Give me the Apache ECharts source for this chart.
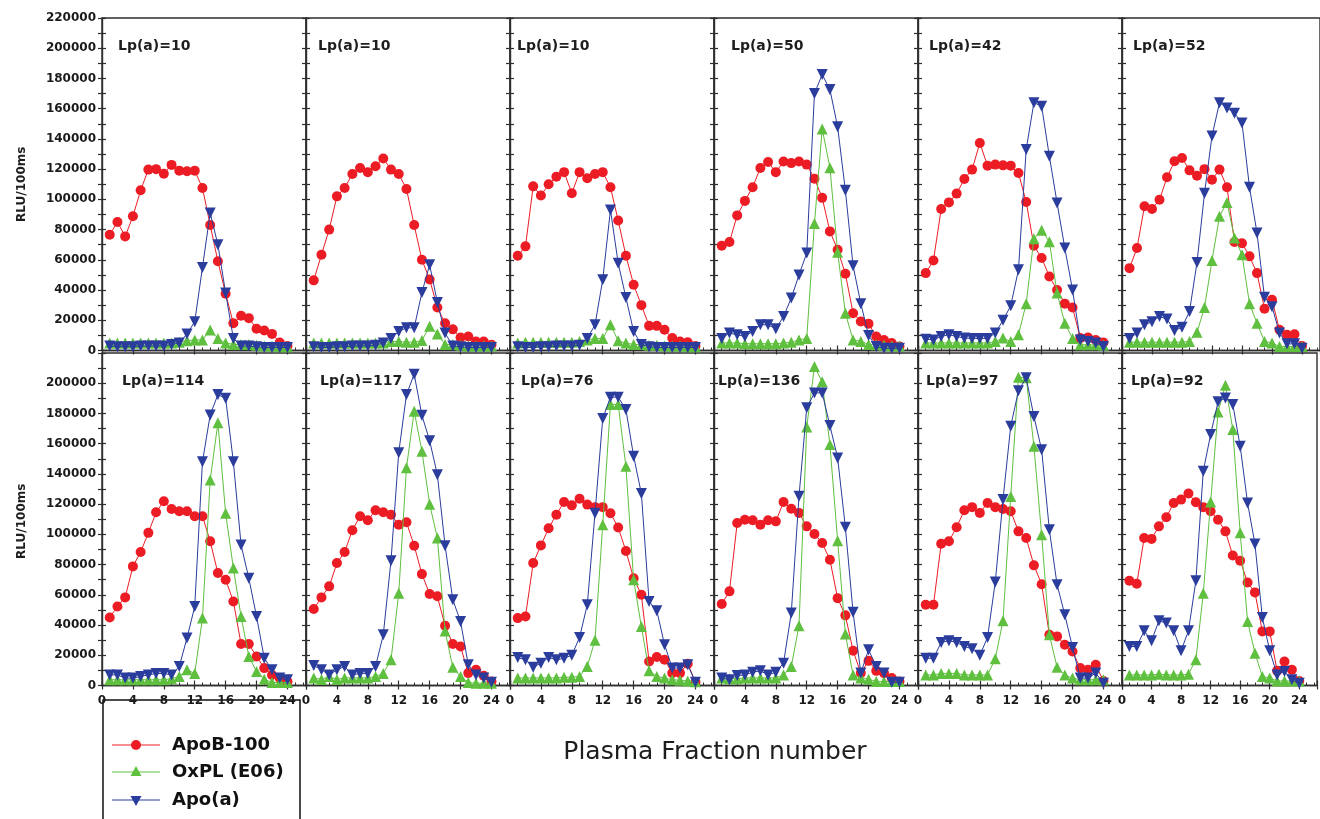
<!DOCTYPE html>
<html>
<head>
<meta charset="utf-8">
<script src="https://cdn.jsdelivr.net/npm/echarts@6/dist/echarts.min.js"></script>
<style>
  html, body { margin: 0; padding: 0; background: #ffffff; }
  #chart { width: 1320px; height: 819px; }
</style>
</head>
<body>
<div id="chart"></div>
<script>
// Fraction numbers along the x axis
const fractions = [1, 2, 3, 4, 5, 6, 7, 8, 9, 10, 11, 12, 13, 14, 15, 16, 17, 18, 19, 20, 21, 22, 23, 24];
const xTicks = [0, 4, 8, 12, 16, 20, 24];
const seriesNames = ['ApoB-100', 'OxPL (E06)', 'Apo(a)'];
const lpLabels = ['Lp(a)=10', 'Lp(a)=10', 'Lp(a)=10', 'Lp(a)=50', 'Lp(a)=42', 'Lp(a)=52',
                  'Lp(a)=114', 'Lp(a)=117', 'Lp(a)=76', 'Lp(a)=136', 'Lp(a)=97', 'Lp(a)=92'];

// RLU/100ms per fraction, one set of three profiles per subject
const p1ApoB = [76600, 85000, 75500, 88800, 106000, 119700, 120000, 117000, 122800, 119000, 118600, 119000, 107500, 83000, 59000, 37500, 18000, 23000, 21400, 14400, 13200, 11000, 5300, 3000];
const p1OxPL = [5000, 5000, 5000, 5000, 5000, 5000, 5000, 5000, 5000, 5500, 6500, 7000, 7000, 13500, 8000, 5000, 4000, 4000, 4000, 3500, 3000, 3000, 2500, 2500];
const p1Apoa = [3000, 2500, 2500, 2500, 3000, 3000, 3000, 3000, 4000, 5000, 11000, 19000, 55000, 91000, 70000, 38000, 8000, 3000, 3000, 2500, 2000, 2000, 2000, 2000];

const p2ApoB = [46400, 63400, 80000, 102000, 107500, 116800, 120800, 118000, 121900, 127000, 119700, 116800, 106900, 83000, 60000, 47000, 28500, 18000, 14000, 8600, 9300, 6000, 6000, 3800];
const p2OxPL = [5000, 5000, 5000, 5000, 5000, 5000, 5000, 5000, 5000, 5000, 6000, 6000, 5500, 5500, 6600, 16000, 11000, 4000, 4000, 3500, 3000, 3000, 3000, 3000];
const p2Apoa = [2500, 2000, 2000, 2500, 2500, 3000, 3000, 3000, 3500, 5000, 8000, 12600, 15000, 15000, 38400, 56700, 31800, 11500, 3000, 2500, 2000, 2000, 2000, 2000];

const p3ApoB = [62700, 68900, 108600, 102500, 110000, 115000, 118000, 104000, 118000, 114000, 116800, 118000, 108000, 86000, 62700, 43500, 30000, 16300, 16300, 13700, 8200, 6000, 5500, 3000];
const p3OxPL = [5000, 5500, 5500, 5500, 5500, 5500, 5500, 5500, 6000, 7000, 8000, 8000, 17000, 6400, 4900, 4000, 4000, 3500, 3500, 3000, 3000, 3000, 2500, 2500];
const p3Apoa = [2500, 2000, 2000, 2500, 2500, 3000, 3000, 3000, 3500, 8000, 17000, 46800, 93000, 57800, 35000, 12600, 4000, 2500, 2000, 2000, 2000, 2000, 2000, 2000];

const p4ApoB = [69300, 71800, 89400, 99000, 108000, 120800, 124700, 118000, 125000, 124000, 125000, 123000, 113700, 101000, 78800, 66700, 50800, 24700, 19200, 17700, 9300, 7000, 4900, 2600];
const p4OxPL = [5000, 5000, 5000, 4500, 4500, 4500, 4500, 4500, 5000, 5500, 7000, 8000, 84000, 146600, 121000, 65000, 24700, 7000, 6000, 4000, 3800, 3500, 3000, 3000];
const p4Apoa = [8000, 11500, 10400, 9300, 12600, 17000, 17000, 14400, 22500, 34700, 50000, 64500, 170000, 182600, 172700, 148000, 106000, 56000, 31000, 10000, 2600, 1500, 1500, 1500];

const p5ApoB = [51200, 59600, 93600, 98000, 103800, 113500, 119700, 137300, 122300, 123000, 122500, 122300, 117500, 98300, 69300, 61200, 49000, 40000, 31000, 28500, 8200, 8600, 7000, 5300];
const p5OxPL = [5000, 5000, 5000, 5000, 5000, 5000, 5000, 5000, 5000, 6000, 8200, 6000, 10400, 31000, 74000, 79500, 72000, 38000, 18000, 8000, 3800, 3800, 3800, 3500];
const p5Apoa = [7500, 7000, 9300, 10400, 9300, 8200, 8000, 8000, 8000, 11500, 20000, 29600, 53400, 133000, 164000, 161600, 128500, 97600, 67800, 40000, 7000, 6000, 4900, 2600];

const p6ApoB = [54500, 67800, 95400, 93600, 99800, 114600, 125200, 127400, 119200, 115700, 120000, 113000, 119700, 108000, 71800, 71000, 62300, 51200, 27600, 33600, 13700, 10400, 10800, 3000];
const p6OxPL = [5500, 5500, 5500, 5500, 5500, 5500, 5500, 5500, 6000, 12000, 28500, 59600, 88800, 98000, 74400, 63400, 31000, 18000, 6000, 5000, 2600, 2600, 2600, 2600];
const p6Apoa = [8000, 11500, 17000, 19000, 22500, 20800, 13200, 15400, 25800, 58300, 104000, 142000, 164000, 160500, 157000, 150500, 108000, 77700, 35300, 29000, 11500, 4400, 4400, 1500];

const p7ApoB = [45000, 52300, 58300, 78800, 88300, 101000, 114600, 121900, 116800, 115300, 115300, 112000, 112000, 95400, 74400, 70000, 55600, 27400, 27400, 19200, 11500, 7000, 4900, 2600];
const p7OxPL = [3800, 3800, 3800, 3800, 3800, 3800, 3800, 3800, 4500, 6000, 10400, 8000, 44600, 136000, 173800, 114000, 77700, 45700, 19200, 9300, 4200, 2000, 2000, 2000];
const p7Apoa = [7000, 7000, 4900, 4900, 6000, 7000, 8000, 8000, 7000, 12600, 31400, 52300, 148000, 179000, 192500, 190000, 148000, 93000, 71000, 45700, 18000, 10400, 4900, 3800];

const p8ApoB = [50600, 58300, 65600, 81000, 88300, 102700, 112000, 109300, 116000, 114600, 113000, 106400, 108000, 92500, 73700, 60500, 59000, 39500, 27400, 25800, 8200, 10400, 6400, 2600];
const p8OxPL = [5000, 4000, 6000, 4000, 5000, 5000, 5000, 5000, 6000, 8000, 17000, 61000, 144000, 181500, 155000, 120000, 97600, 36000, 12000, 6000, 2000, 1500, 1500, 1500];
const p8Apoa = [13200, 10400, 7000, 10400, 12600, 7000, 8000, 8000, 12600, 33600, 82600, 154000, 192500, 206000, 178800, 162000, 139500, 92500, 56700, 42400, 13700, 7000, 4900, 2200];

const p9ApoB = [44600, 45700, 81000, 92700, 104000, 113000, 121400, 119200, 123600, 119700, 118000, 118000, 114000, 104600, 89000, 71000, 60000, 15900, 18800, 17000, 8200, 8200, 14400, 2200];
const p9OxPL = [5000, 5000, 5000, 5000, 5000, 5000, 5500, 5500, 6000, 12600, 30000, 106400, 186000, 186000, 145000, 70000, 39000, 9700, 6000, 4900, 3800, 3500, 3000, 2500];
const p9Apoa = [18500, 17000, 12000, 14800, 18500, 17000, 18000, 20000, 31800, 53400, 114000, 176600, 190800, 190800, 182600, 151700, 127000, 55600, 49500, 27000, 11500, 11500, 13700, 2200];

const p10ApoB = [53900, 62300, 107500, 109700, 109300, 106400, 109300, 108600, 121400, 117000, 114200, 105300, 100200, 94300, 83200, 57800, 46400, 23000, 8200, 16300, 9700, 8200, 4900, 2600];
const p10OxPL = [5000, 4500, 4500, 5000, 5000, 5000, 5000, 5000, 7000, 12600, 39500, 171000, 211000, 201000, 159400, 95800, 34000, 7000, 4900, 4200, 2600, 2600, 2600, 2600];
const p10Apoa = [4900, 3800, 6600, 7000, 8800, 9700, 7000, 8800, 14800, 47900, 125200, 183700, 193600, 193600, 172000, 150600, 104700, 48400, 8200, 23600, 12600, 8200, 2200, 2200];

const p11ApoB = [53400, 53400, 93800, 95400, 104700, 116000, 118000, 114200, 120800, 118000, 116800, 115300, 102000, 97600, 79500, 67000, 33600, 32500, 27000, 22500, 11500, 10400, 13700, 3000];
const p11OxPL = [7000, 7000, 8000, 8000, 8000, 7000, 7000, 7000, 7000, 17700, 42800, 125000, 204000, 203600, 158300, 99800, 33600, 12000, 7000, 4900, 3800, 3800, 3800, 3800];
const p11Apoa = [18000, 18000, 28500, 29600, 28500, 25800, 24300, 20000, 31800, 68400, 123000, 171600, 195000, 203600, 178000, 156000, 103000, 66700, 46800, 25200, 4900, 4900, 8200, 1500];

const p12ApoB = [69300, 67300, 97600, 97000, 105300, 111300, 120800, 123000, 127000, 121200, 118000, 115300, 109700, 102000, 86000, 82600, 68200, 61600, 35800, 35800, 9700, 15900, 10400, 3000];
const p12OxPL = [7000, 7000, 7000, 7000, 7500, 7000, 7000, 7000, 7500, 17000, 61000, 121400, 181000, 198700, 169400, 101000, 42400, 21400, 6000, 4900, 3000, 3000, 3000, 3000];
const p12Apoa = [25800, 25800, 36200, 29600, 42800, 41300, 36200, 23000, 36200, 69300, 141800, 166000, 187700, 190300, 186000, 158300, 120800, 93600, 45000, 23000, 7000, 9300, 3800, 1500];

const panelData = [
  [p1ApoB, p1OxPL, p1Apoa], [p2ApoB, p2OxPL, p2Apoa], [p3ApoB, p3OxPL, p3Apoa],
  [p4ApoB, p4OxPL, p4Apoa], [p5ApoB, p5OxPL, p5Apoa], [p6ApoB, p6OxPL, p6Apoa],
  [p7ApoB, p7OxPL, p7Apoa], [p8ApoB, p8OxPL, p8Apoa], [p9ApoB, p9OxPL, p9Apoa],
  [p10ApoB, p10OxPL, p10Apoa], [p11ApoB, p11OxPL, p11Apoa], [p12ApoB, p12OxPL, p12Apoa]
];

// ---- layout & styling ----
const FONT = '"DejaVu Sans", "Liberation Sans", sans-serif';
const AXIS_COLOR = '#2e2e2e';
const COLORS = ['#ec1c24', '#5fbf3f', '#2a3c9c'];
const SYMBOLS = ['circle', 'triangle', 'triangle'];
const SYMBOL_SIZES = [10, 11, 11];
const SYMBOL_ROTATE = [0, 0, 180];

const PANEL_LEFT = 102, PANEL_W = 204, PANEL_H = 332.5;
const ROW_TOPS = [18, 353];
const Y_MAX = 220000, X_MAX = 26.4;
// horizontal offset of each "Lp(a)=" caption inside its panel
const captionOffsets = [16, 12, 7, 17, 11, 11, 20, 14, 11, 4, 8, 9];

const grids = [], xAxes = [], yAxes = [], series = [], graphics = [];

panelData.forEach((sets, i) => {
  const row = Math.floor(i / 6), col = i % 6;
  const left = PANEL_LEFT + PANEL_W * col;
  const top = ROW_TOPS[row];
  grids.push({
    left: left, top: top, width: PANEL_W, height: PANEL_H,
    show: true, borderColor: AXIS_COLOR, borderWidth: 1.4, backgroundColor: 'transparent'
  });

  const xBase = {
    type: 'value', gridIndex: i, min: 0, max: X_MAX, interval: 4, position: 'bottom',
    splitLine: { show: false }
  };
  // main x axis: line, inner ticks, labels on the lower row only
  xAxes.push(Object.assign({}, xBase, {
    axisLine: { show: true, onZero: false, lineStyle: { color: AXIS_COLOR, width: 1.4 } },
    axisTick: { show: true, inside: true, length: 5, lineStyle: { color: AXIS_COLOR, width: 1.2 } },
    minorTick: { show: true, splitNumber: 4, length: 3, lineStyle: { color: AXIS_COLOR, width: 1 } },
    axisLabel: {
      show: row === 1, margin: 9, color: '#1a1a1a', fontFamily: FONT, fontWeight: 'bold', fontSize: 12,
      formatter: v => (xTicks.indexOf(v) >= 0 ? String(v) : '')
    }
  }));
  // companion x axis: outer half of the crossing ticks
  xAxes.push(Object.assign({}, xBase, {
    axisLine: { show: false },
    axisTick: { show: true, inside: false, length: 4, lineStyle: { color: AXIS_COLOR, width: 1.2 } },
    axisLabel: { show: false }
  }));

  const yBase = {
    type: 'value', gridIndex: i, min: 0, max: Y_MAX, interval: 10000, position: 'left',
    splitLine: { show: false }
  };
  yAxes.push(Object.assign({}, yBase, {
    axisLine: { show: true, onZero: false, lineStyle: { color: AXIS_COLOR, width: 1.4 } },
    axisTick: { show: true, inside: true, length: 4, lineStyle: { color: AXIS_COLOR, width: 1.2 } },
    axisLabel: {
      show: col === 0, margin: 6, color: '#1a1a1a', fontFamily: FONT, fontWeight: 'bold', fontSize: 12,
      formatter: v => (v % 20000 === 0 && !(row === 1 && v === Y_MAX)) ? String(v) : ''
    }
  }));
  yAxes.push(Object.assign({}, yBase, {
    axisLine: { show: false },
    axisTick: { show: true, inside: false, length: 4, lineStyle: { color: AXIS_COLOR, width: 1.2 } },
    axisLabel: { show: false }
  }));

  sets.forEach((values, s) => {
    series.push({
      name: seriesNames[s],
      type: 'line',
      xAxisIndex: 2 * i,
      yAxisIndex: 2 * i,
      data: fractions.map((f, j) => [f, values[j]]),
      symbol: SYMBOLS[s],
      symbolSize: SYMBOL_SIZES[s],
      symbolRotate: SYMBOL_ROTATE[s],
      showAllSymbol: true,
      lineStyle: { color: COLORS[s], width: 1 },
      itemStyle: { color: COLORS[s], borderWidth: 0 },
      z: 2 + s,
      silent: true,
      animation: false
    });
  });

  graphics.push({
    type: 'text', left: left + captionOffsets[i], top: top + 21,
    style: { text: lpLabels[i], font: 'bold 14px ' + FONT, fill: '#1e1e1e' }
  });
});

// axis titles
['RLU/100ms', 'RLU/100ms'].forEach((t, r) => {
  graphics.push({
    type: 'text', x: 22, y: ROW_TOPS[r] + PANEL_H / 2 + (r === 0 ? 0 : 2), rotation: Math.PI / 2,
    style: { text: t, font: 'bold 12px ' + FONT, fill: '#1e1e1e', align: 'center', verticalAlign: 'middle' }
  });
});
graphics.push({
  type: 'text', x: 715, y: 752,
  style: { text: 'Plasma Fraction number', font: '25px ' + FONT, fill: '#1e1e1e', align: 'center', verticalAlign: 'middle' }
});

// legend box
const LEG = { x: 103, y: 700, w: 197, rowY: [745, 772, 800] };
graphics.push({
  type: 'rect', shape: { x: LEG.x, y: LEG.y, width: LEG.w, height: 140 },
  style: { fill: '#fff', stroke: '#111', lineWidth: 1.5 }
});
seriesNames.forEach((name, s) => {
  const y = LEG.rowY[s];
  graphics.push({ type: 'line', shape: { x1: 112, y1: y, x2: 160, y2: y }, style: { stroke: COLORS[s], lineWidth: 1 } });
  if (s === 0) {
    graphics.push({ type: 'circle', shape: { cx: 136, cy: y, r: 5 }, style: { fill: COLORS[s] } });
  } else if (s === 1) {
    graphics.push({ type: 'polygon', shape: { points: [[136, y - 6], [141.5, y + 4], [130.5, y + 4]] }, style: { fill: COLORS[s] } });
  } else {
    graphics.push({ type: 'polygon', shape: { points: [[136, y + 6], [141.5, y - 4], [130.5, y - 4]] }, style: { fill: COLORS[s] } });
  }
  graphics.push({
    type: 'text', x: 172, y: y,
    style: { text: name, font: '600 18px ' + FONT, fill: '#111', verticalAlign: 'middle' }
  });
});

const chart = echarts.init(document.getElementById('chart'), null, { renderer: 'canvas' });
chart.setOption({
  backgroundColor: '#ffffff',
  animation: false,
  grid: grids,
  xAxis: xAxes,
  yAxis: yAxes,
  series: series,
  graphic: graphics
});
</script>
</body>
</html>
